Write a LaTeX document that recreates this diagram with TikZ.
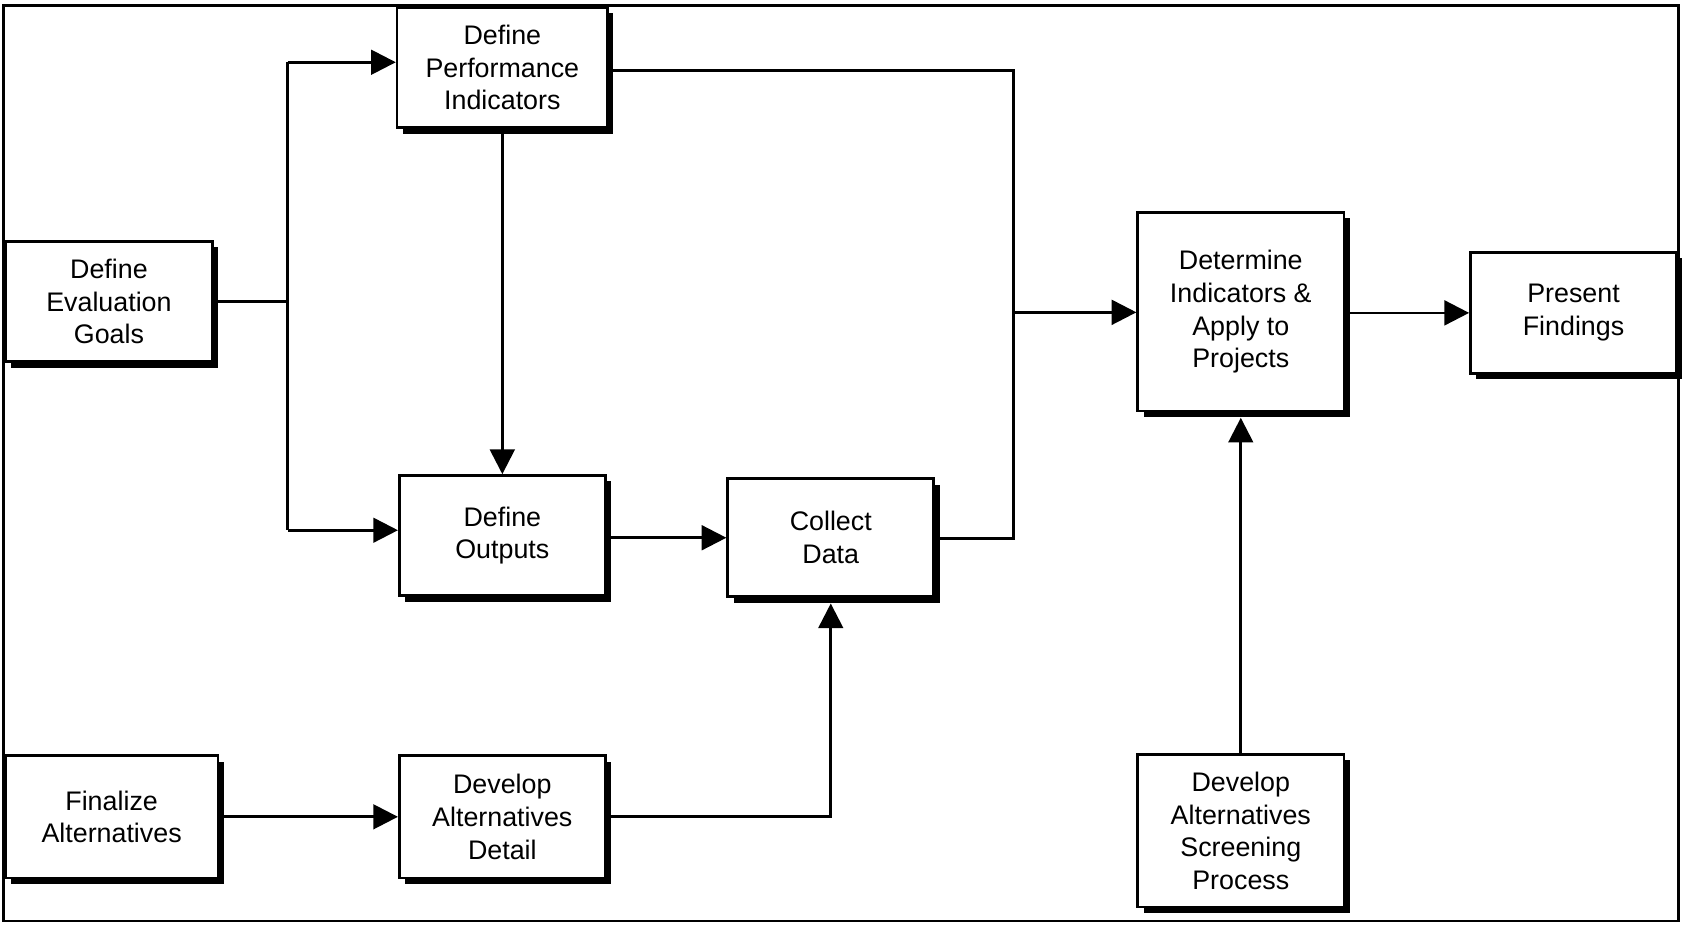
\documentclass[tikz,border=0pt]{standalone}
\usepackage{fontspec}
\setmainfont{Liberation Sans}
\usetikzlibrary{arrows.meta,shadows}
\begin{document}
\begin{tikzpicture}[x=1pt,y=1pt,
  box/.style={draw=black,line width=2.5pt,fill=white,align=center,inner sep=0pt,
    font=\fontsize{25}{30.5}\selectfont,
    drop shadow={shadow xshift=5.5pt,shadow yshift=-5.5pt,fill=black,opacity=1}},
  conn/.style={line width=2.5pt},
  arr/.style={conn,-{Triangle[length=23pt,width=23pt]}}]
\useasboundingbox (0,0) rectangle (1568,-862);
\draw[line width=2.5pt] (3,-5) rectangle (1564,-858);

\node[box,minimum width=193pt,minimum height=112pt] (goals) at (101.5,-281) {Define\\Evaluation\\Goals};
\node[box,minimum width=196pt,minimum height=112pt] (perf) at (468,-63) {Define\\Performance\\Indicators};
\node[box,minimum width=192pt,minimum height=112pt] (outputs) at (468,-499) {Define\\Outputs};
\node[box,minimum width=192pt,minimum height=110pt] (collect) at (774,-501) {Collect\\Data};
\node[box,minimum width=192pt,minimum height=185pt] (determine) at (1156,-290.5) {Determine\\Indicators \&\\Apply to\\Projects};
\node[box,minimum width=192pt,minimum height=113pt] (present) at (1466,-291.5) {Present\\Findings};
\node[box,minimum width=198pt,minimum height=114pt] (finalize) at (104,-761) {Finalize\\Alternatives};
\node[box,minimum width=192pt,minimum height=114pt] (detail) at (468,-761) {Develop\\Alternatives\\Detail};
\node[box,minimum width=192pt,minimum height=142pt] (screening) at (1156,-774) {Develop\\Alternatives\\Screening\\Process};

\coordinate (ja) at (268,-58);
\coordinate (jb) at (268,-494);
\coordinate (jc) at (944,-66);
\coordinate (jd) at (944,-502);
\coordinate (je) at (944,-291);

\draw[conn] (goals.east) -- (goals.east -| ja);
\draw[conn] (ja) -- (jb);
\draw[arr] (ja) -- (ja -| perf.west);
\draw[arr] (jb) -- (jb -| outputs.west);
\draw[arr,shorten <=5pt] (perf.south) -- (outputs.north);
\draw[conn] (perf.east |- jc) -- (jc) -- (jd) -- (jd -| collect.east);
\draw[arr] (je) -- (je -| determine.west);
\draw[arr] (outputs.east |- collect.west) -- (collect.west);
\draw[arr] (finalize.east |- detail.west) -- (detail.west);
\draw[arr,shorten >=5pt] (detail.east) -| (collect.south);
\draw[arr] (determine.east |- present.west) -- (present.west);
\draw[arr,shorten >=5pt] (screening.north) -- (determine.south);
\end{tikzpicture}
\end{document}
